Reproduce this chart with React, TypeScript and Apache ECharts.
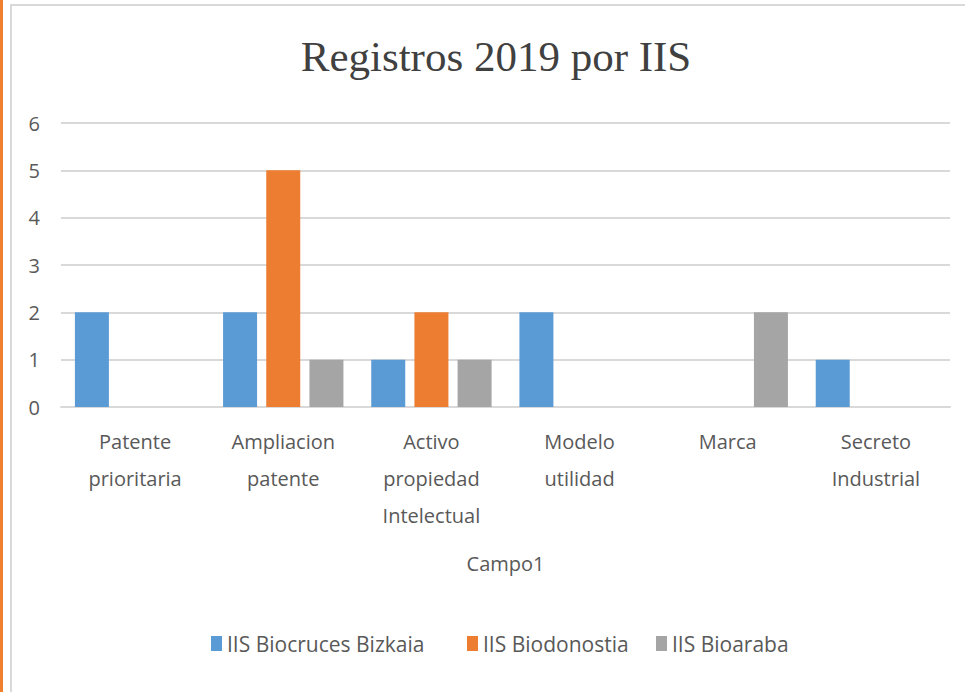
import React, { useEffect, useRef } from "react";
import * as echarts from "echarts";

const categories = [
  "Patente\nprioritaria",
  "Ampliacion\npatente",
  "Activo\npropiedad\nIntelectual",
  "Modelo\nutilidad",
  "Marca",
  "Secreto\nIndustrial",
];
const seriesNames = ["IIS Biocruces Bizkaia", "IIS Biodonostia", "IIS Bioaraba"];
const biocruces = [2, 2, 1, 2, 0, 1];
const biodonostia = [0, 5, 2, 0, 0, 0];
const bioaraba = [0, 1, 1, 0, 2, 0];
const colors = ["#5b9bd5", "#ed7d31", "#a5a5a5"];
const legendLefts = [206, 462, 651];

const FONT = '"Open Sans", sans-serif';

export default function App() {
  const ref = useRef<HTMLDivElement>(null);
  useEffect(() => {
    if (!ref.current) return;
    const chart = echarts.init(ref.current, undefined, { renderer: "svg" });
    const data = [biocruces, biodonostia, bioaraba];
    chart.setOption({
      animation: false,
      backgroundColor: "#ffffff",
      title: {
        text: "Registros 2019 por IIS",
        left: 491,
        textAlign: "center",
        top: 30,
        textStyle: {
          fontFamily: '"Liberation Serif", "DejaVu Serif", serif',
          fontSize: 43,
          fontWeight: "normal",
          color: "#404040",
        },
      },
      graphic: [
        {
          type: "rect",
          shape: { x: 0, y: 0, width: 3, height: 692 },
          style: { fill: "#f0802f" },
          silent: true,
        },
        {
          type: "rect",
          shape: { x: 11, y: 5, width: 980, height: 720 },
          style: { fill: "none", stroke: "#d9d9d9", lineWidth: 2 },
          silent: true,
        },
      ],
      legend: seriesNames.map((name, i) => ({
        bottom: 33,
        left: legendLefts[i],
        itemWidth: 11,
        itemHeight: 15,
        itemGap: 8,
        icon: "rect",
        textStyle: { fontFamily: FONT, fontSize: 21, color: "#595959" },
        data: [name],
      })),
      grid: { left: 61, right: 15, top: 123, bottom: 285, containLabel: false },
      xAxis: {
        type: "category",
        data: categories,
        name: "Campo1",
        nameLocation: "middle",
        nameGap: 146,
        nameTextStyle: { fontFamily: FONT, fontSize: 20, color: "#595959", verticalAlign: "top" },
        axisLine: { show: true, lineStyle: { color: "#d9d9d9", width: 2 } },
        axisTick: { show: false },
        axisLabel: {
          fontFamily: FONT,
          fontSize: 20,
          color: "#595959",
          lineHeight: 37,
          margin: 16,
          interval: 0,
        },
      },
      yAxis: {
        type: "value",
        min: 0,
        max: 6,
        interval: 1,
        axisLine: { show: false },
        axisTick: { show: false },
        splitLine: { lineStyle: { color: "#d9d9d9", width: 2 } },
        axisLabel: { fontFamily: FONT, fontSize: 20, color: "#595959", margin: 21 },
      },
      series: seriesNames.map((name, i) => ({
        name,
        type: "bar",
        data: data[i],
        barWidth: 34,
        barGap: "27%",
        itemStyle: { color: colors[i] },
      })),
    });
    return () => chart.dispose();
  }, []);
  return (
    <div
      ref={ref}
      style={{ position: "fixed", left: 0, top: 0, width: 965, height: 692 }}
    />
  );
}
